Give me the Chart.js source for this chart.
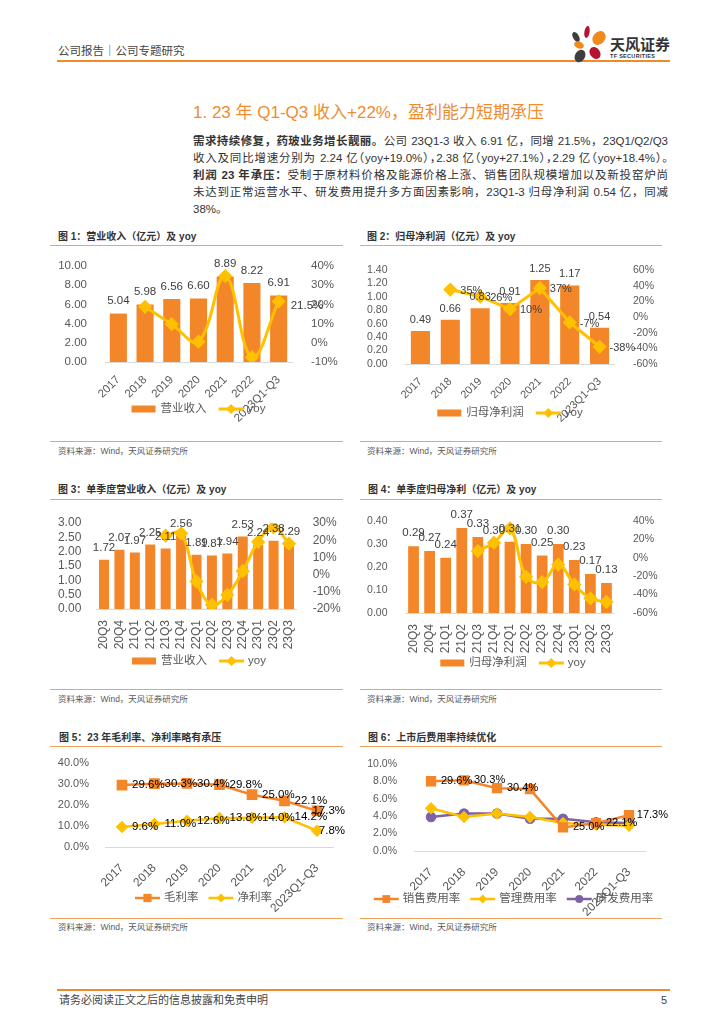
<!DOCTYPE html>
<html>
<head>
<meta charset="utf-8">
<script src="https://cdn.jsdelivr.net/npm/chart.js@4.4.0/dist/chart.umd.min.js"></script>
<style>
  body { margin: 0; width: 724px; height: 1024px; background: #fff; position: relative; overflow: hidden;
         font-family: "Liberation Sans", "Noto Sans CJK SC", sans-serif; color: #333; }
  .a { position: absolute; white-space: nowrap; }
  .hl { position: absolute; background: #F08A2A; }
  .ol { position: absolute; height: 1px; background: #F3A25E; }
  .ft { font-size: 10px; line-height: 14px; font-weight: bold; color: #333; }
  .src { font-size: 8.5px; line-height: 12px; color: #595959; }
  .para div { text-align: justify; text-align-last: justify; white-space: normal; }
  .para div.last { text-align-last: left; }
  .para .halt { font-feature-settings: "halt"; }
  .box { position: absolute; }
</style>
</head>
<body>

<!-- 页眉 -->
<div class="a" style="left:58px;top:43px;font-size:11.5px;line-height:16px;color:#444;">公司报告｜公司专题研究</div>
<div class="hl" style="left:57px;top:60px;width:613px;height:2px;"></div>
<svg class="a" style="left:570px;top:24px;" width="40" height="40" viewBox="0 0 40 40">
  <ellipse cx="17" cy="8" rx="2.6" ry="6" transform="rotate(10 17 8)" fill="#B3162E"/>
  <ellipse cx="6" cy="13" rx="3" ry="5.5" transform="rotate(-30 6 13)" fill="#3E3E3E"/>
  <ellipse cx="29" cy="14" rx="6" ry="7.5" transform="rotate(40 29 14)" fill="#F08A1C"/>
  <ellipse cx="9" cy="21" rx="5" ry="3.5" transform="rotate(20 9 21)" fill="#F08A1C"/>
  <ellipse cx="25" cy="29" rx="5" ry="6.5" transform="rotate(-35 25 29)" fill="#B3162E"/>
  <ellipse cx="10" cy="32" rx="5" ry="6.5" transform="rotate(30 10 32)" fill="#3E3E3E"/>
</svg>
<div class="a" style="left:610px;top:35.5px;font-size:15px;line-height:18px;font-weight:bold;color:#333;">天风证券</div>
<div class="a" style="left:610px;top:52.5px;font-size:5.5px;line-height:7px;font-weight:bold;color:#333;letter-spacing:0.3px;">TF SECURITIES</div>

<!-- 标题与正文 -->
<div class="a" style="left:193px;top:102px;font-size:17px;line-height:22px;color:#F08C2E;">1. 23 年 Q1-Q3 收入+22%，盈利能力短期承压</div>
<div class="a para" style="left:193px;top:133px;width:475px;font-size:11.5px;line-height:16.9px;color:#333;white-space:normal;">
  <div><b>需求持续修复，药玻业务增长靓丽。</b>公司 23Q1-3 收入 6.91 亿，同增 21.5%，23Q1/Q2/Q3</div>
  <div class="halt">收入及同比增速分别为 2.24 亿（yoy+19.0%），2.38 亿（yoy+27.1%），2.29 亿（yoy+18.4%）。</div>
  <div><b>利润 23 年承压：</b>受制于原材料价格及能源价格上涨、销售团队规模增加以及新投窑炉尚</div>
  <div>未达到正常运营水平、研发费用提升多方面因素影响，23Q1-3 归母净利润 0.54 亿，同减</div>
  <div class="last">38%。</div>
</div>

<!-- 图标题 -->
<div class="a ft" style="left:58px;top:229.7px;">图 1：营业收入（亿元）及 yoy</div>
<div class="a ft" style="left:367px;top:229.7px;">图 2：归母净利润（亿元）及 yoy</div>
<div class="ol" style="left:50px;top:245px;width:293px;"></div>
<div class="ol" style="left:360px;top:245px;width:302px;"></div>

<div class="a ft" style="left:58px;top:483px;">图 3：单季度营业收入（亿元）及 yoy</div>
<div class="a ft" style="left:368px;top:483px;">图 4：单季度归母净利（亿元）及 yoy</div>
<div class="ol" style="left:50px;top:499px;width:293px;"></div>
<div class="ol" style="left:360px;top:499px;width:302px;"></div>

<div class="a ft" style="left:59px;top:730.7px;">图 5：23 年毛利率、净利率略有承压</div>
<div class="a ft" style="left:368px;top:730.7px;">图 6：上市后费用率持续优化</div>
<div class="ol" style="left:50px;top:746px;width:293px;"></div>
<div class="ol" style="left:360px;top:746px;width:302px;"></div>

<!-- 图表 -->
<div class="box" style="left:52px;top:248px;width:293px;height:192px;"><canvas id="c1"></canvas></div>
<div class="box" style="left:362px;top:248px;width:306px;height:192px;"><canvas id="c2"></canvas></div>
<div class="box" style="left:52px;top:501px;width:293px;height:187px;"><canvas id="c3"></canvas></div>
<div class="box" style="left:362px;top:501px;width:306px;height:187px;"><canvas id="c4"></canvas></div>
<div class="box" style="left:52px;top:748px;width:293px;height:168px;"><canvas id="c5"></canvas></div>
<div class="box" style="left:362px;top:748px;width:306px;height:168px;"><canvas id="c6"></canvas></div>

<!-- 资料来源 -->
<div class="ol" style="left:50px;top:441px;width:293px;"></div>
<div class="ol" style="left:360px;top:441px;width:302px;"></div>
<div class="a src" style="left:58px;top:445px;">资料来源：Wind，天风证券研究所</div>
<div class="a src" style="left:367px;top:445px;">资料来源：Wind，天风证券研究所</div>

<div class="ol" style="left:50px;top:689px;width:293px;"></div>
<div class="ol" style="left:360px;top:689px;width:302px;"></div>
<div class="a src" style="left:58px;top:693px;">资料来源：Wind，天风证券研究所</div>
<div class="a src" style="left:367px;top:693px;">资料来源：Wind，天风证券研究所</div>

<div class="ol" style="left:50px;top:917.5px;width:293px;"></div>
<div class="ol" style="left:360px;top:917.5px;width:302px;"></div>
<div class="a src" style="left:58px;top:920.7px;">资料来源：Wind，天风证券研究所</div>
<div class="a src" style="left:367px;top:920.7px;">资料来源：Wind，天风证券研究所</div>

<!-- 页脚 -->
<div class="hl" style="left:57px;top:988.5px;width:613px;height:2px;"></div>
<div class="a" style="left:59px;top:993px;font-size:11px;line-height:14px;color:#444;">请务必阅读正文之后的信息披露和免责申明</div>
<div class="a" style="left:661px;top:993px;font-size:11px;line-height:14px;color:#444;">5</div>

<script>
// 数据
const years = ['2017', '2018', '2019', '2020', '2021', '2022', '2023Q1-Q3'];
const quarters = ['20Q3', '20Q4', '21Q1', '21Q2', '21Q3', '21Q4', '22Q1', '22Q2', '22Q3', '22Q4', '23Q1', '23Q2', '23Q3'];

const revenue = [5.04, 5.98, 6.56, 6.60, 8.89, 8.22, 6.91];
const revenueYoy = [null, 18.7, 9.7, 0.6, 34.7, -7.5, 21.5];

const profit = [0.49, 0.66, 0.83, 0.91, 1.25, 1.17, 0.54];
const profitYoy = [null, 35, 26, 10, 37, -7, -38];

const qRevenue = [1.72, 2.07, 1.97, 2.25, 2.11, 2.56, 1.89, 1.87, 1.94, 2.53, 2.24, 2.38, 2.29];
const qRevenueYoy = [null, null, null, null, 22.7, 24.0, -4.0, -17.6, -11.8, 2.0, 19.0, 27.5, 18.0];

const qProfit = [0.29, 0.27, 0.24, 0.37, 0.33, 0.30, 0.31, 0.30, 0.25, 0.30, 0.23, 0.17, 0.13];
const qProfitYoy = [null, null, null, null, 7.3, 16.4, 32.0, -20.7, -26.5, -7.3, -29.0, -44.0, -48.0];

const grossMargin = [29.6, 30.3, 30.4, 29.8, 25.0, 22.1, 17.3];
const netMargin = [9.6, 11.0, 12.6, 13.8, 14.0, 14.2, 7.8];

const salesRate = [8.0, 8.1, 7.2, 7.1, 2.7, 3.2, 4.1];
const adminRate = [4.9, 3.9, 4.3, 3.9, 3.2, 3.0, 2.9];
const rdRate = [3.9, 4.3, 4.3, 3.7, 3.7, 3.3, 3.2];
// 原图销售费用率的数据标签沿用了毛利率的数值
const salesRateLabels = ['29.6%', '30.3%', '30.4%', '', '25.0%', '22.1%', '17.3%'];

const ORANGE = '#F4862A';
const YELLOW = '#FFC000';
const PURPLE = '#7E62A6';
const TICK = '#595959';
const FONT = '"Liberation Sans", "Noto Sans CJK SC", sans-serif';

// 数据标签
const valueLabels = {
  id: 'valueLabels',
  afterDatasetsDraw(chart) {
    const ctx = chart.ctx;
    chart.data.datasets.forEach((ds, i) => {
      const l = ds.lbl;
      if (!l) return;
      const meta = chart.getDatasetMeta(i);
      ctx.save();
      ctx.font = l.font;
      ctx.fillStyle = l.color;
      ctx.textBaseline = 'middle';
      meta.data.forEach((el, j) => {
        const t = l.text[j];
        if (!t) return;
        if (l.pos === 'top') {
          ctx.textAlign = 'center';
          ctx.fillText(t, el.x, el.y - l.dy);
        } else {
          ctx.textAlign = 'left';
          const w = ctx.measureText(t).width;
          let x = el.x + l.dx;
          if (x + w > chart.width) x = chart.width - w;
          ctx.fillText(t, x, el.y + (l.dy || 0));
        }
      });
      ctx.restore();
    });
  }
};

function marker(ctx, style, x, y, r, color) {
  ctx.fillStyle = color;
  ctx.beginPath();
  if (style === 'rectRot') {
    ctx.moveTo(x, y - r); ctx.lineTo(x + r, y); ctx.lineTo(x, y + r); ctx.lineTo(x - r, y); ctx.closePath();
  } else if (style === 'rect') {
    const s = r * Math.SQRT1_2;
    ctx.rect(x - s, y - s, 2 * s, 2 * s);
  } else {
    ctx.arc(x, y, r, 0, Math.PI * 2);
  }
  ctx.fill();
}

// 图例
const miniLegend = {
  id: 'miniLegend',
  afterDraw(chart, args, o) {
    if (!o || o.y === undefined) return;
    const ctx = chart.ctx;
    ctx.save();
    ctx.font = o.font;
    ctx.textBaseline = 'middle';
    const items = chart.data.datasets.map(ds => ({ ds, w: 29 + ctx.measureText(ds.label).width }));
    const total = items.reduce((s, it) => s + it.w, 0) + o.gap * (items.length - 1);
    let x = o.cx - total / 2;
    items.forEach(it => {
      const ds = it.ds;
      if (ds.type === 'bar') {
        ctx.fillStyle = ds.backgroundColor;
        ctx.fillRect(x, o.y - 3.5, 24, 7);
      } else {
        ctx.strokeStyle = ds.borderColor;
        ctx.lineWidth = ds.borderWidth;
        ctx.beginPath(); ctx.moveTo(x, o.y); ctx.lineTo(x + 25, o.y); ctx.stroke();
        marker(ctx, ds.pointStyle, x + 12.5, o.y, ds.pointRadius, ds.borderColor);
      }
      ctx.fillStyle = o.color;
      ctx.textAlign = 'left';
      ctx.fillText(ds.label, x + 29, o.y);
      x += it.w + o.gap;
    });
    ctx.restore();
  }
};

Chart.register(valueLabels, miniLegend);

function fixW(w) { return s => { s.width = w; }; }
function fixH(h) { return s => { s.height = h; }; }

// 柱状图 + yoy 折线
function combo(id, g) {
  return new Chart(document.getElementById(id), {
    type: 'bar',
    data: {
      labels: g.labels,
      datasets: [
        {
          type: 'bar', label: g.barName, data: g.bars, yAxisID: 'yl', order: 1,
          backgroundColor: ORANGE, categoryPercentage: 1, barPercentage: g.bp,
          lbl: { text: g.bars.map(v => v.toFixed(2)), pos: 'top', dy: g.barDy, font: g.lblSize + 'px ' + FONT, color: '#404040' }
        },
        {
          type: 'line', label: 'yoy', data: g.line, yAxisID: 'yr', order: 0,
          borderColor: YELLOW, backgroundColor: YELLOW, borderWidth: 3, tension: g.tension,
          pointStyle: 'rectRot', pointRadius: 5, pointBackgroundColor: YELLOW, pointBorderColor: YELLOW,
          lbl: g.lineText ? { text: g.lineText, pos: 'right', dx: g.lineDx, dy: g.lineDy, font: g.lblSize + 'px ' + FONT, color: '#404040' } : null
        }
      ]
    },
    options: {
      responsive: true, maintainAspectRatio: false, animation: false,
      layout: { padding: { top: g.top, bottom: 0, left: 0, right: 0 } },
      plugins: {
        legend: { display: false }, tooltip: { enabled: false },
        miniLegend: { cx: g.legendX, y: g.legendY, gap: 12, font: '11.5px ' + FONT, color: TICK }
      },
      scales: {
        x: {
          grid: { display: false }, border: { display: true, color: '#D9D9D9' },
          ticks: { color: TICK, font: { family: FONT, size: g.xSize }, minRotation: g.rot, maxRotation: g.rot, autoSkip: false, padding: 3 },
          afterFit: fixH(g.xh)
        },
        yl: {
          position: 'left', min: g.lMin, max: g.lMax,
          grid: { display: false }, border: { display: false },
          ticks: { stepSize: g.lStep, autoSkip: false, color: TICK, font: { family: FONT, size: g.ySize }, padding: g.lPad, callback: v => v.toFixed(2) },
          afterFit: fixW(g.lw)
        },
        yr: {
          position: 'right', min: g.rMin, max: g.rMax,
          grid: { display: false }, border: { display: false },
          ticks: { stepSize: g.rStep, autoSkip: false, color: TICK, font: { family: FONT, size: g.ySize }, padding: g.rPad, callback: v => Math.round(v) + '%' },
          afterFit: fixW(g.rw)
        }
      }
    }
  });
}

combo('c1', {
  labels: years, bars: revenue, line: revenueYoy, barName: '营业收入', bp: 0.64, tension: 0.4,
  lineText: revenueYoy.map((v, i) => i === revenueYoy.length - 1 ? v.toFixed(1) + '%' : ''), lineDx: 12, lineDy: 4,
  barDy: 12.5, lblSize: 11.5, xSize: 11.5, ySize: 11.5, rot: 45,
  lMin: 0, lMax: 10, lStep: 2, rMin: -10, rMax: 40, rStep: 10,
  top: 12, xh: 78, lw: 53, rw: 53, lPad: 10, rPad: 11, legendX: 146.5, legendY: 161
});

combo('c2', {
  labels: years, bars: profit, line: profitYoy, barName: '归母净利润', bp: 0.64, tension: 0,
  lineText: profitYoy.map(v => v === null ? '' : v + '%'), lineDx: 10, lineDy: 1,
  barDy: 11, lblSize: 11, xSize: 11, ySize: 10.5, rot: 45,
  lMin: 0, lMax: 1.4, lStep: 0.2, rMin: -60, rMax: 60, rStep: 20,
  top: 22, xh: 76, lw: 43.5, rw: 53.5, lPad: 10, rPad: 10.5, legendX: 148, legendY: 165
});

combo('c3', {
  labels: quarters, bars: qRevenue, line: qRevenueYoy, barName: '营业收入', bp: 0.65, tension: 0.4,
  lineText: null, barDy: 11.5, lblSize: 11.5, xSize: 12, ySize: 12, rot: 90,
  lMin: 0, lMax: 3, lStep: 0.5, rMin: -20, rMax: 30, rStep: 10,
  top: 22, xh: 79, lw: 44.3, rw: 48.3, lPad: 7, rPad: 8, legendX: 147, legendY: 160
});

combo('c4', {
  labels: quarters, bars: qProfit, line: qProfitYoy, barName: '归母净利润', bp: 0.67, tension: 0.4,
  lineText: null, barDy: 13, lblSize: 11.5, xSize: 12, ySize: 10.5, rot: 90,
  lMin: 0, lMax: 0.4, lStep: 0.1, rMin: -60, rMax: 40, rStep: 20,
  top: 20, xh: 75, lw: 43.5, rw: 53.5, lPad: 10, rPad: 10.5, legendX: 151, legendY: 162
});

// 折线图
function lines(id, g) {
  return new Chart(document.getElementById(id), {
    type: 'line',
    data: {
      labels: g.labels,
      datasets: g.series.map(s => ({
        label: s.name, data: s.data, borderColor: s.color, backgroundColor: s.color, borderWidth: 2.5, tension: 0,
        pointStyle: s.style, pointRadius: s.r, pointBackgroundColor: s.color, pointBorderColor: s.color,
        lbl: s.text ? { text: s.text, pos: 'right', dx: 10, dy: 0, font: g.lblSize + 'px ' + FONT, color: '#000' } : null
      }))
    },
    options: {
      responsive: true, maintainAspectRatio: false, animation: false,
      layout: { padding: { top: g.top, bottom: 0, left: 0, right: g.right } },
      plugins: {
        legend: { display: false }, tooltip: { enabled: false },
        miniLegend: { cx: g.legendX, y: g.legendY, gap: 10, font: '11.5px ' + FONT, color: TICK }
      },
      scales: {
        x: {
          offset: true, grid: { display: false }, border: { display: true, color: '#D9D9D9' },
          ticks: { color: TICK, font: { family: FONT, size: g.xSize }, minRotation: 45, maxRotation: 45, autoSkip: false, padding: 6 },
          afterFit: fixH(g.xh)
        },
        y: {
          min: g.min, max: g.max,
          grid: { display: false }, border: { display: false },
          ticks: { stepSize: g.step, autoSkip: false, color: TICK, font: { family: FONT, size: g.ySize }, padding: g.lPad, callback: v => v.toFixed(1) + '%' },
          afterFit: fixW(g.lw)
        }
      }
    }
  });
}

lines('c5', {
  labels: years,
  series: [
    { name: '毛利率', data: grossMargin, color: ORANGE, style: 'rect', r: 5.8, text: grossMargin.map(v => v.toFixed(1) + '%') },
    { name: '净利率', data: netMargin, color: YELLOW, style: 'rectRot', r: 4.5, text: netMargin.map(v => v.toFixed(1) + '%') }
  ],
  min: 0, max: 40, step: 10, lblSize: 11.5, xSize: 12, ySize: 11,
  top: 15, right: 11.75, xh: 69, lw: 53.75, lPad: 8.75, legendX: 151.5, legendY: 150
});

lines('c6', {
  labels: years,
  series: [
    { name: '销售费用率', data: salesRate, color: ORANGE, style: 'rect', r: 5.5, text: salesRateLabels },
    { name: '管理费用率', data: adminRate, color: YELLOW, style: 'rectRot', r: 4.5, text: null },
    { name: '研发费用率', data: rdRate, color: PURPLE, style: 'circle', r: 4, text: null }
  ],
  min: 0, max: 10, step: 2, lblSize: 11, xSize: 12, ySize: 10.5,
  top: 13.7, right: 22.5, xh: 65, lw: 52.5, lPad: 9.5, legendX: 151.5, legendY: 151
});
</script>
</body>
</html>
